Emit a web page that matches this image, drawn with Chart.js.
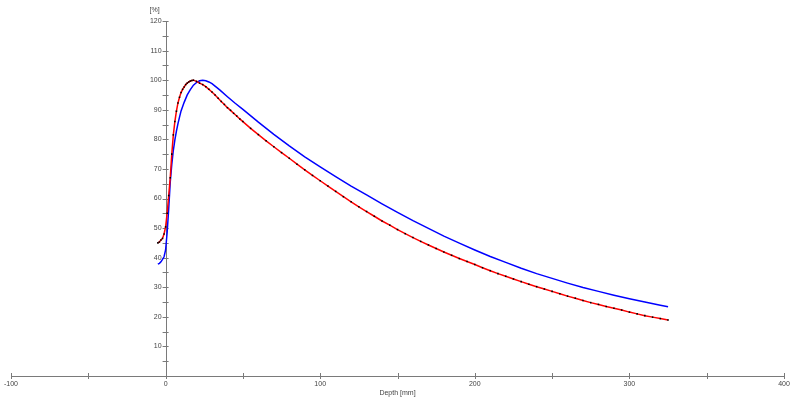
<!DOCTYPE html>
<html>
<head>
<meta charset="utf-8">
<script src="https://cdn.jsdelivr.net/npm/chart.js@4/dist/chart.umd.min.js"></script>
<style>
  html, body { margin: 0; padding: 0; background: #fff; }
  #wrap { width: 793px; height: 400px; }
</style>
</head>
<body>
<div id="wrap"><canvas id="depthChart"></canvas></div>
<script>
// Mesure (rouge + points noirs)
const depthMeas = [-5, -4, -3, -2, -1, 0, 1, 2, 3, 4, 5, 6, 7, 8, 9, 10, 11, 12, 13, 14, 15, 16, 17, 18,
  20, 22, 24, 26, 28, 30, 32, 34, 36, 38, 40, 42, 44, 46, 48, 50,
  55, 60, 65, 70, 75, 80, 85, 90, 95, 100, 105, 110, 115, 120, 125, 130, 135, 140, 145, 150,
  155, 160, 165, 170, 175, 180, 185, 190, 195, 200, 205, 210, 215, 220, 225, 230, 235, 240,
  245, 250, 255, 260, 265, 270, 275, 280, 285, 290, 295, 300, 305, 310, 315, 320, 325];
const doseMeas = [45.0, 45.3, 46.0, 46.5, 48.0, 50.4, 55.0, 61.0, 67.0, 75.0, 81.5, 86.0, 89.5, 92.3, 94.2, 95.8, 96.9, 97.7, 98.5, 99.0, 99.4, 99.7, 99.9, 100.0,
  99.6, 99.0, 98.5, 97.8, 96.9, 96.0, 95.0, 93.9, 92.8, 91.8, 90.7, 89.8, 88.8, 87.9, 86.9, 86.0,
  83.7, 81.6, 79.5, 77.5, 75.5, 73.6, 71.6, 69.7, 67.8, 66.0, 64.2, 62.4, 60.6, 58.9, 57.2, 55.6, 54.0, 52.4, 51.0, 49.5,
  48.1, 46.8, 45.5, 44.3, 43.1, 41.9, 40.8, 39.7, 38.7, 37.7, 36.6, 35.6, 34.6, 33.7, 32.8, 31.9, 31.0, 30.2,
  29.4, 28.6, 27.8, 27.0, 26.3, 25.5, 24.8, 24.2, 23.5, 22.9, 22.3, 21.6, 21.0, 20.4, 19.9, 19.4, 18.9];

// Calcul (bleu)
const depthCalc = [-5, -4, -3, -2, -1, 0, 1, 2, 3, 4, 5, 6, 7, 8, 9, 10, 12, 14, 16, 18, 20, 22, 24, 26, 28, 30,
  35, 40, 45, 50, 60, 70, 80, 90, 100, 110, 120, 130, 140, 150, 160, 170, 180, 190, 200,
  210, 220, 230, 240, 250, 260, 270, 280, 290, 300, 310, 320, 325];
const doseCalc = [37.8, 38.1, 38.6, 39.4, 40.3, 42.6, 48.5, 56.5, 65.5, 71.5, 76.3, 79.8, 82.8, 85.3, 87.5, 89.6, 92.5, 95.0, 96.8, 98.3, 99.2, 99.8, 100.0, 99.8, 99.4, 98.8,
  96.7, 94.4, 92.2, 90.1, 85.8, 81.7, 77.8, 74.1, 70.7, 67.4, 64.2, 61.2, 58.2, 55.3, 52.5, 49.9, 47.3, 44.9, 42.6,
  40.4, 38.4, 36.4, 34.6, 33.0, 31.4, 29.9, 28.6, 27.3, 26.1, 25.0, 23.9, 23.4];

// Graduations
const xMajorTicks = [-100, -50, 0, 50, 100, 150, 200, 250, 300, 350, 400];
const xLabels = [-100, 0, 100, 200, 300, 400];
const yMajorTicks = [5, 10, 15, 20, 25, 30, 35, 40, 45, 50, 55, 60, 65, 70, 75, 80, 85, 90, 95, 100, 105, 110, 115, 120];
const yLabels = [10, 20, 30, 40, 50, 60, 70, 80, 90, 100, 110, 120];

const toXY = (xs, ys) => xs.map((x, i) => ({ x: x, y: ys[i] }));

// Axes croisés en 0 dessinés avec les échelles de Chart.js
const crossAxes = {
  id: 'crossAxes',
  beforeDatasetsDraw(chart) {
    const c = chart.ctx;
    const sx = chart.scales.x, sy = chart.scales.y;
    const x0 = sx.getPixelForValue(0), y0 = sy.getPixelForValue(0);
    c.save();
    c.strokeStyle = '#7a7a7a';
    c.lineWidth = 1;
    c.beginPath();
    c.moveTo(sx.getPixelForValue(-100), y0 + 0.5);
    c.lineTo(sx.getPixelForValue(400), y0 + 0.5);
    c.moveTo(Math.round(x0) + 0.5, y0);
    c.lineTo(Math.round(x0) + 0.5, sy.getPixelForValue(120));
    xMajorTicks.forEach(v => {
      const px = Math.round(sx.getPixelForValue(v)) + 0.5;
      c.moveTo(px, y0 - 3); c.lineTo(px, y0 + 3);
    });
    yMajorTicks.forEach(v => {
      const py = Math.round(sy.getPixelForValue(v)) + 0.5;
      c.moveTo(x0 - 3, py); c.lineTo(x0 + 3, py);
    });
    c.stroke();

    c.fillStyle = '#444';
    c.font = '7px "Liberation Sans", Arial, sans-serif';
    c.textAlign = 'center';
    c.textBaseline = 'top';
    xLabels.forEach(v => c.fillText(String(v), sx.getPixelForValue(v), y0 + 5));
    c.textAlign = 'right';
    c.textBaseline = 'middle';
    yLabels.forEach(v => c.fillText(String(v), x0 - 4, sy.getPixelForValue(v)));
    c.textAlign = 'center';
    c.fillText('[%]', x0 - 11, sy.getPixelForValue(120) - 11);
    c.textBaseline = 'top';
    c.fillText('Depth [mm]', (chart.chartArea.left + chart.chartArea.right) / 2, y0 + 14);
    c.restore();
  }
};

new Chart(document.getElementById('depthChart'), {
  type: 'line',
  data: {
    datasets: [
      {
        label: 'Mesure',
        data: toXY(depthMeas, doseMeas),
        borderColor: '#ff0000',
        borderWidth: 1.5,
        pointStyle: 'rect',
        pointRadius: 1.1,
        pointBorderWidth: 0,
        pointBackgroundColor: '#000',
        tension: 0
      },
      {
        label: 'Calcul',
        data: toXY(depthCalc, doseCalc),
        borderColor: '#0000ff',
        borderWidth: 1.5,
        pointRadius: 0,
        tension: 0
      }
    ]
  },
  options: {
    responsive: true,
    maintainAspectRatio: false,
    animation: false,
    layout: { padding: { left: 11, right: 9, top: 21, bottom: 24 } },
    plugins: { legend: { display: false }, tooltip: { enabled: false } },
    scales: {
      x: { type: 'linear', min: -100, max: 400, display: false },
      y: { type: 'linear', min: 0, max: 120, display: false }
    }
  },
  plugins: [crossAxes]
});
</script>
</body>
</html>
